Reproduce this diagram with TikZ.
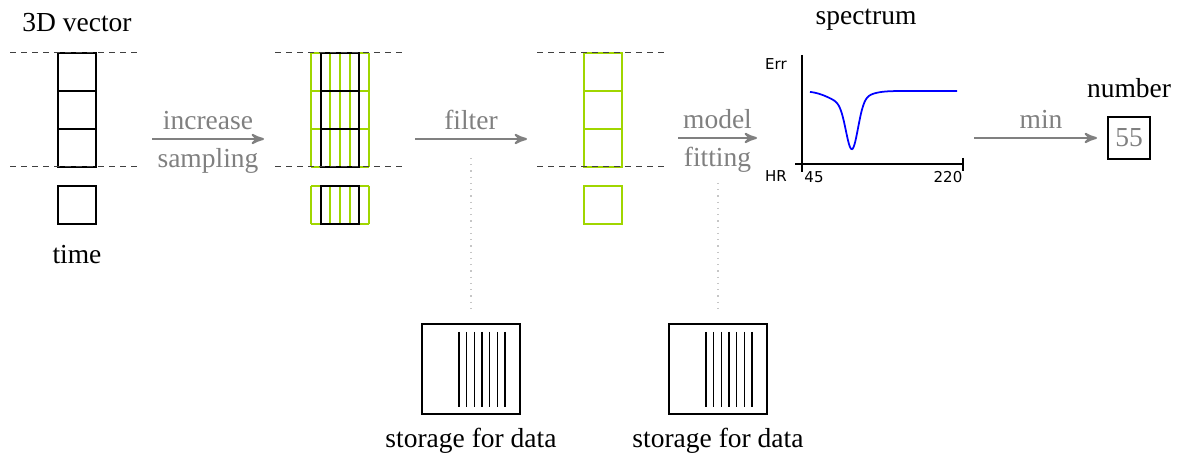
\documentclass[tikz,border=0pt]{standalone}
\usepackage{fontspec}
\setmainfont{Liberation Serif}
\newfontfamily\axisfont{DejaVu Sans}
\usetikzlibrary{arrows,positioning,calc}
\definecolor{leaf}{RGB}{160,214,0}

\begin{document}
\begin{tikzpicture}[x=0.4pt,y=-0.4pt,>=stealth',font=\fontsize{11}{13}\selectfont]
  \tikzstyle{cell}=[draw=black,line width=0.8pt,minimum size=15.2pt,inner sep=0pt,outer sep=0pt]
  \tikzstyle{gcell}=[cell,draw=leaf]
  \tikzstyle{guide}=[black!75,line width=0.4pt,dash pattern=on 2.4pt off 2pt]
  \tikzstyle{flow}=[->,gray,line width=0.8pt]
  \tikzstyle{lbl}=[text=gray]
  \tikzstyle{store}=[draw=black,line width=0.6pt,minimum width=39.2pt,minimum height=36pt,inner sep=0pt]
  \tikzstyle{hint}=[gray!45,dotted,line width=0.5pt]
  \tikzstyle{tiny}=[font=\axisfont\fontsize{6}{7}\selectfont,inner sep=1pt]

  \useasboundingbox (0,0) rectangle (1187,464);

  % input vector
  \node[cell] (v1) at (77,72) {};
  \node[cell] (v2) [below=0pt of v1] {};
  \node[cell] (v3) [below=0pt of v2] {};
  \node[cell] (vt) at (77,205) {};
  \node (vlab) [above=5pt of v1] {3D vector};
  \node (tlab) [below=5pt of vt] {time};

  % upsampled vector
  \foreach \i in {0,...,6}
    \draw[leaf,line width=0.8pt] ({311+\i*58/6},53) -- ({311+\i*58/6},167)
                                 ({311+\i*58/6},186) -- ({311+\i*58/6},224);
  \foreach \j in {53,91,129,167,186,224}
    \draw[leaf,line width=0.8pt] (311,\j) -- (369,\j);
  \node[cell] (u1) at (340,72) {};
  \node[cell] (u2) [below=0pt of u1] {};
  \node[cell] (u3) [below=0pt of u2] {};
  \node[cell] (ut) at (340,205) {};

  % filtered vector
  \node[gcell] (f1) at (603,72) {};
  \node[gcell] (f2) [below=0pt of f1] {};
  \node[gcell] (f3) [below=0pt of f2] {};
  \node[gcell] (ft) at (603,205) {};

  % dashed guides
  \draw[guide] ($(v1.north)+(-67,0)$) -- ($(v1.north)+(65,0)$);
  \draw[guide] ($(v3.south)+(-67,0)$) -- ($(v3.south)+(65,0)$);
  \draw[guide] ($(u1.north)+(-65,0)$) -- ($(u1.north)+(65,0)$);
  \draw[guide] ($(u3.south)+(-65,0)$) -- ($(u3.south)+(65,0)$);
  \draw[guide] ($(f1.north)+(-66,0)$) -- ($(f1.north)+(65,0)$);
  \draw[guide] ($(f3.south)+(-66,0)$) -- ($(f3.south)+(65,0)$);

  % steps
  \coordinate (a1) at (152,139);
  \coordinate (b1) at (264,139);
  \coordinate (a2) at (415,139);
  \coordinate (b2) at (527,139);
  \coordinate (a3) at (678,138);
  \coordinate (b3) at (757,138);
  \coordinate (a4) at (974,138);
  \draw[flow] (a1) -- node[lbl,above] {increase} node[lbl,below] {sampling} (b1);
  \draw[flow] (a2) -- node[lbl,above] {filter} (b2);
  \draw[flow] (a3) -- node[lbl,above] {model} node[lbl,below] {fitting} (b3);

  % spectrum
  \draw[line width=0.8pt] (802,55) -- (802,172);
  \draw[line width=0.8pt] (795,164) -- (963,164);
  \draw[line width=0.8pt] (963,158) -- (963,171);
  \draw[blue,line width=0.7pt] plot[domain=810:957,samples=200]
    (\x,{91+47*exp(-(\x-852)*(\x-852)/70.56)+12*exp(-(\x-846)*(\x-846)/500)});
  \node[tiny] (err) at (776,64) {Err};
  \node[tiny] (hr) at (776,176) {HR};
  \node[tiny] (lo) at (814,177) {45};
  \node[tiny] (hi) at (948,177) {220};
  \node (spec) at (866,20) {spectrum};

  % result
  \node[cell,minimum size=16.8pt,text=gray] (num) at (1129,138) {55};
  \node (nlab) [above=4pt of num] {number};
  \draw[flow,shorten >=4.4pt] (a4) -- node[lbl,above] {min} (num);

  % storage
  \node[store] (st1) at (471,369) {};
  \node[store] (st2) at (718,369) {};
  \foreach \k in {0,...,6} {
    \draw[line width=0.6pt] ($(st1.center)+({-12+\k*46/6},-37)$) -- ++(0,75);
    \draw[line width=0.6pt] ($(st2.center)+({-12+\k*46/6},-37)$) -- ++(0,75);
  }
  \node (s1lab) [below=2pt of st1] {storage for data};
  \node (s2lab) [below=2pt of st2] {storage for data};
  \coordinate (d1) at (471,158);
  \coordinate (d2) at (718,183);
  \draw[hint,shorten >=4.8pt] (d1) -- (st1);
  \draw[hint,shorten >=4.8pt] (d2) -- (st2);
\end{tikzpicture}
\end{document}
